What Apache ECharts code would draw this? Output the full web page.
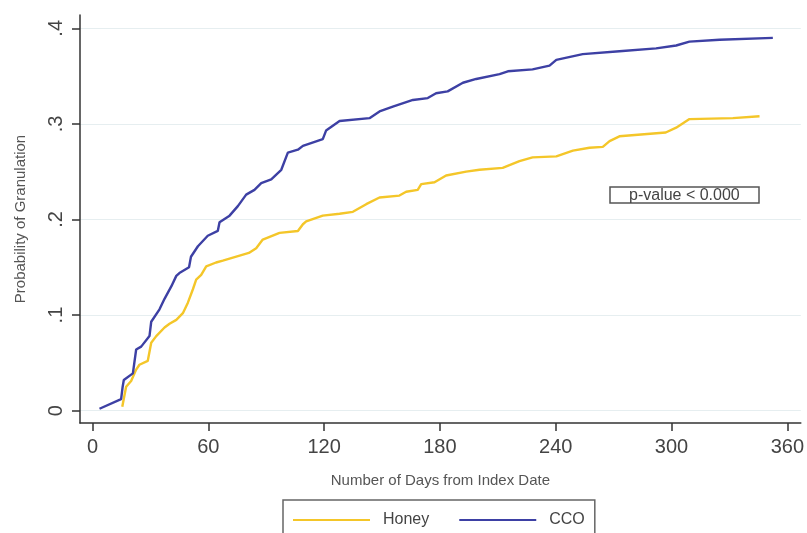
<!DOCTYPE html>
<html>
<head>
<meta charset="utf-8">
<script src="https://cdn.jsdelivr.net/npm/echarts@6/dist/echarts.min.js"></script>
<style>
html,body{margin:0;padding:0;background:#fff;}
#chart{width:807px;height:533px;}
</style>
</head>
<body>
<div id="chart"></div>
<script>
const seriesNames = ['Honey', 'CCO'];
const xTicks = [0, 60, 120, 180, 240, 300, 360];
const yTicks = [0, 0.1, 0.2, 0.3, 0.4];
const yTickLabels = ['0', '.1', '.2', '.3', '.4'];

const ccoDays = [3.6, 14.8, 15.6, 16.2, 20.9, 22.6, 25.2, 29.5, 30.4, 34.7, 37.3, 40.8, 43.4, 45, 50, 51, 54.6, 59.7, 64.9, 65.8, 71, 75.3, 79.6, 83.9, 87.4, 92.6, 97.8, 101.2, 106.4, 109, 119.3, 121, 128, 143.5, 148.7, 155.6, 166, 173.7, 178, 184, 191.9, 198.8, 210.9, 215.2, 228, 236.8, 240.3, 254, 273, 292, 302.4, 309.3, 324.9, 352.5];
const ccoProb = [0.002, 0.012, 0.025, 0.032, 0.039, 0.064, 0.067, 0.078, 0.093, 0.106, 0.117, 0.130, 0.141, 0.144, 0.150, 0.161, 0.172, 0.183, 0.188, 0.197, 0.204, 0.214, 0.226, 0.231, 0.238, 0.242, 0.252, 0.270, 0.273, 0.277, 0.284, 0.293, 0.303, 0.306, 0.313, 0.318, 0.325, 0.327, 0.332, 0.334, 0.343, 0.347, 0.352, 0.355, 0.357, 0.361, 0.367, 0.373, 0.376, 0.379, 0.382, 0.386, 0.388, 0.390];

const honeyDays = [15.4, 17.4, 20, 22.6, 24.3, 28.6, 30.4, 33, 37.3, 39.9, 43.4, 46.8, 49.4, 52, 53.7, 56.3, 58.9, 64, 67.5, 81, 84.8, 88.2, 96.9, 106.4, 109, 110.7, 119.3, 128, 134.9, 141.8, 148.7, 159, 162.5, 168.5, 170.3, 177.2, 183.2, 193.6, 200.5, 212.5, 221.2, 228, 240.3, 248.9, 257.5, 264.4, 267.9, 273, 297, 302.4, 309.3, 331.8, 345.6];
const honeyProb = [0.004, 0.025, 0.031, 0.043, 0.048, 0.052, 0.071, 0.078, 0.087, 0.091, 0.095, 0.102, 0.113, 0.127, 0.137, 0.142, 0.151, 0.155, 0.157, 0.165, 0.170, 0.179, 0.186, 0.188, 0.195, 0.198, 0.204, 0.206, 0.208, 0.216, 0.223, 0.225, 0.229, 0.231, 0.237, 0.239, 0.246, 0.250, 0.252, 0.254, 0.261, 0.265, 0.266, 0.272, 0.275, 0.276, 0.282, 0.287, 0.291, 0.296, 0.305, 0.306, 0.308];

const annotationText = 'p-value < 0.000';

function zip(a, b) { return a.map((v, i) => [v, b[i]]); }

const FONT = "'Liberation Sans', Arial, sans-serif";
const chart = echarts.init(document.getElementById('chart'), null, {renderer: 'canvas'});
chart.setOption({
  animation: false,
  backgroundColor: '#fff',
  title: {
    text: annotationText,
    left: 610, top: 187,
    padding: [1, 19, 0, 19],
    borderColor: '#555', borderWidth: 1.5,
    textStyle: {fontFamily: FONT, fontSize: 16, fontWeight: 'normal', color: '#444', lineHeight: 15}
  },
  legend: {
    data: seriesNames,
    left: 283, top: 500,
    padding: [12, 10, 20, 10],
    borderColor: '#666', borderWidth: 1.5,
    itemWidth: 77, itemHeight: 2, itemGap: 30,
    icon: 'rect',
    textStyle: {fontFamily: FONT, fontSize: 16, color: '#444', padding: [0, 0, 0, 8]}
  },
  grid: {left: 80, right: 5, top: 15, bottom: 110, containLabel: false},
  xAxis: {
    type: 'value', min: -6.5, max: 367,
    name: 'Number of Days from Index Date',
    nameLocation: 'middle', nameGap: 50,
    nameTextStyle: {fontFamily: FONT, fontSize: 15, color: '#555'},
    axisLine: {show: true, onZero: false, lineStyle: {color: '#333', width: 1.5}},
    axisTick: {show: true, length: 8, customValues: xTicks, lineStyle: {color: '#333', width: 1.5}},
    axisLabel: {customValues: xTicks, margin: 14, fontFamily: FONT, fontSize: 20, color: '#444'},
    splitLine: {show: false}
  },
  yAxis: {
    type: 'value', min: -0.0129, max: 0.4139,
    name: 'Probability of Granulation',
    nameLocation: 'middle', nameGap: 52,
    nameTextStyle: {fontFamily: FONT, fontSize: 15, color: '#555'},
    axisLine: {show: true, onZero: false, lineStyle: {color: '#333', width: 1.5}},
    axisTick: {show: true, length: 8, customValues: yTicks, lineStyle: {color: '#333', width: 1.5}},
    axisLabel: {
      customValues: yTicks, rotate: 90, margin: 14,
      fontFamily: FONT, fontSize: 20, color: '#444',
      formatter: v => yTickLabels[yTicks.findIndex(t => Math.abs(t - v) < 1e-9)]
    },
    splitLine: {show: true, lineStyle: {color: '#e6eef0', width: 1.2}}
  },
  series: [
    {name: seriesNames[0], type: 'line', data: zip(honeyDays, honeyProb), showSymbol: false, symbol: 'none',
     lineStyle: {color: '#f4c629', width: 2.4}, itemStyle: {color: '#f4c629'}, z: 2},
    {name: seriesNames[1], type: 'line', data: zip(ccoDays, ccoProb), showSymbol: false, symbol: 'none',
     lineStyle: {color: '#3d40a4', width: 2.4}, itemStyle: {color: '#3d40a4'}, z: 3}
  ]
});
</script>
</body>
</html>
